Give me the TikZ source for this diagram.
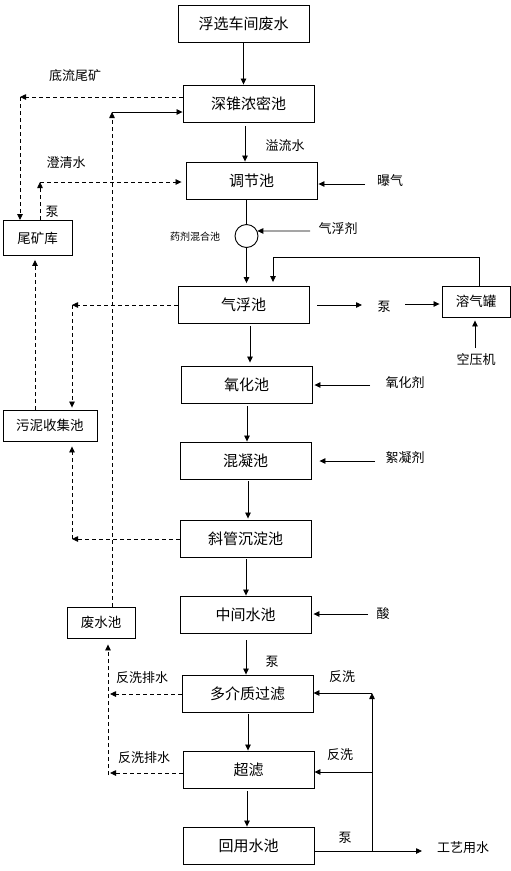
\documentclass[tikz,border=0pt]{standalone}
\usepackage{fontspec}
\setmainfont{Noto Sans CJK SC}
\usetikzlibrary{arrows.meta,calc}
\begin{document}
\begin{tikzpicture}[x=1pt,y=-1pt,
  box/.style={draw,line width=0.9pt,minimum width=131pt,minimum height=37pt,inner sep=0pt,font=\fontsize{15}{15}\selectfont},
  sbox/.style={draw,line width=0.9pt,minimum height=31pt,inner sep=0pt,font=\fontsize{13.5}{13.5}\selectfont},
  lbl/.style={inner sep=0pt,font=\fontsize{13}{13}\selectfont},
  flow/.style={line width=0.8pt,-{Triangle[length=6pt,width=5.5pt]}},
  dflow/.style={flow,dash pattern=on 4pt off 3pt},
  sline/.style={line width=0.8pt}]
\useasboundingbox (0,0) rectangle (511,871);
% main boxes
\node[box] (b1) at (243.5,23.5) {浮选车间废水};
\node[box] (b2) at (248.5,103.5) {深锥浓密池};
\node[box] (b3) at (251.5,180.5) {调节池};
\node[draw,circle,line width=0.9pt,minimum size=23pt,inner sep=0pt] (mix) at (246.5,236) {};
\node[box] (b4) at (243.5,305) {气浮池};
\node[box] (b5) at (246.5,384.5) {氧化池};
\node[box] (b6) at (245.5,460.5) {混凝池};
\node[box] (b7) at (245.5,538.5) {斜管沉淀池};
\node[box] (b8) at (245.5,614.5) {中间水池};
\node[box] (b9) at (247.5,693.5) {多介质过滤};
\node[box] (b10) at (248.5,769.5) {超滤};
\node[box] (b11) at (248.5,845.5) {回用水池};
% side boxes
\node[sbox,minimum width=69pt,minimum height=35pt] (wk) at (37.5,238) {尾矿库};
\node[sbox,minimum width=94pt] (wn) at (50,425.5) {污泥收集池};
\node[sbox,minimum width=68pt] (fs) at (101,622.5) {废水池};
\node[sbox,minimum width=68pt] (rq) at (476,301.5) {溶气罐};
% labels
\node[lbl] (ldl) at (75,76) {底流尾矿};
\node[lbl] (lcq) at (66,163) {澄清水};
\node[lbl] (lb1) at (52,212) {泵};
\node[lbl] (lyl) at (285,146) {溢流水};
\node[lbl] (lbq) at (390,181) {曝气};
\node[inner sep=0pt,font=\fontsize{10}{10}\selectfont] (lyj) at (195,237) {药剂混合池};
\node[lbl] (lqf) at (338,229) {气浮剂};
\node[lbl] (lb2) at (384,307) {泵};
\node[lbl] (lky) at (476,360) {空压机};
\node[lbl] (lyh) at (405,383) {氧化剂};
\node[lbl] (lxn) at (405,458) {絮凝剂};
\node[lbl] (lsu) at (383,614) {酸};
\node[lbl] (lb3) at (272,662) {泵};
\node[lbl] (lfp1) at (142,678) {反洗排水};
\node[lbl] (lfp2) at (144,758) {反洗排水};
\node[lbl] (lfx1) at (342,677) {反洗};
\node[lbl] (lfx2) at (340,755) {反洗};
\node[lbl] (lb4) at (345,838) {泵};
\node[lbl] (lgy) at (463,848) {工艺用水};
% coordinates
\coordinate (c1) at (20,97);
\coordinate (c2) at (112,112);
\coordinate (c3) at (40,182);
\coordinate (fb) at (273,257);
\coordinate (c4) at (72,305);
\coordinate (c5) at (72,539);
\coordinate (c6) at (110,694);
\coordinate (c7) at (110,773);
\coordinate (c7b) at (108,775);
\coordinate (c8) at (372,693);
\coordinate (c9) at (372,772);
\coordinate (c10) at (372,851);
\coordinate (a1) at (365,184);
\coordinate (a2) at (310,231);
\coordinate (a3) at (317,305);
\coordinate (a4) at (362,305);
\coordinate (a5) at (405,304);
\coordinate (a6) at (475,348);
\coordinate (a7) at (370,385);
\coordinate (a8) at (375,461);
\coordinate (a9) at (368,614);
\coordinate (a10) at (422,851);
% main flow
\draw[flow] (b1.south) -- (b1.south |- b2.north);
\draw[flow] ([xshift=-3.5pt,yshift=-4pt]b2.south) -- ([xshift=-3.5pt]b2.south |- b3.north);
\draw[sline] ([xshift=-5pt]b3.south) -- (mix.north);
\draw[flow] (mix.south) -- ([yshift=3pt]mix.south |- b4.north);
\draw[flow] ([xshift=6.5pt,yshift=-2pt]b4.south) -- ([xshift=6.5pt,yshift=3pt]b4.south |- b5.north);
\draw[flow] ([xshift=0.5pt,yshift=-3pt]b5.south) -- ([xshift=0.5pt]b5.south |- b6.north);
\draw[flow] ([xshift=2.5pt,yshift=-2pt]b6.south) -- ([xshift=2.5pt,yshift=1pt]b6.south |- b7.north);
\draw[flow] ([xshift=0.5pt,yshift=-2pt]b7.south) -- ([xshift=0.5pt]b7.south |- b8.north);
\draw[flow] ([xshift=0.5pt,yshift=-7pt]b8.south) -- ([xshift=0.5pt]b8.south |- b9.north);
\draw[flow] ([xshift=0.5pt,yshift=-2pt]b9.south) -- ([xshift=0.5pt]b9.south |- b10.north);
\draw[flow] ([xshift=-1.5pt,yshift=-3pt]b10.south) -- ([xshift=-1.5pt]b10.south |- b11.north);
% thickener underflow
\draw[dflow] (c1 -| b2.west) -- (c1);
\draw[dflow] (c1) -- (c1 |- wk.north);
% waste water pool return
\draw[dflow] (c2 |- fs.north) -- (c2);
\draw[flow] (c2) -- (c2 -| b2.west);
% clarified water
\draw[dflow] (c3 |- wk.north) -- (c3);
\draw[dflow] (c3) -- ([xshift=-4pt]c3 -| b3.west);
% aeration
\draw[flow] (a1) -- ([xshift=1pt]a1 -| b3.east);
% flotation agent
\draw[flow] (a2) -- (mix.25);
% dissolved air recycle
\draw[sline] ([xshift=3pt]rq.north) |- (fb);
\draw[flow] (fb) -- ([yshift=4pt]fb |- b4.north);
\draw[flow] (a3) -- (a4);
\draw[flow] (a5) -- ([xshift=-2pt]a5 -| rq.west);
\draw[flow] (a6) -- ([yshift=-3pt]a6 |- rq.south);
% sludge
\draw[dflow] (c4 -| b4.west) -- (c4);
\draw[dflow] (c4) -- ([yshift=2pt]c4 |- wn.north);
\draw[dflow] ([xshift=-15pt]wn.north) -- ([xshift=-15pt,yshift=-4pt]wn.north |- wk.south);
\draw[dflow] (c5 -| b7.west) -- (c5);
\draw[dflow] (c5) -- ([yshift=-5pt]c5 |- wn.south);
% chemicals
\draw[flow] (a7) -- ([xshift=2pt]a7 -| b5.east);
\draw[flow] (a8) -- ([xshift=8pt]a8 -| b6.east);
\draw[flow] (a9) -- ([xshift=2pt]a9 -| b8.east);
% backwash drain
\draw[dflow] (c6 -| b9.west) -- (c6);
\draw[dflow] (c7 -| b10.west) -- (c7);
\draw[dflow] (c7b) -- ([yshift=-6pt]c7b |- fs.south);
% reuse
\draw[flow] (c10 -| b11.east) -- (a10);
\draw[flow] (c10) -- (c8);
\draw[flow] (c8) -- (c8 -| b9.east);
\draw[flow] (c9) -- (c9 -| b10.east);
\end{tikzpicture}
\end{document}
